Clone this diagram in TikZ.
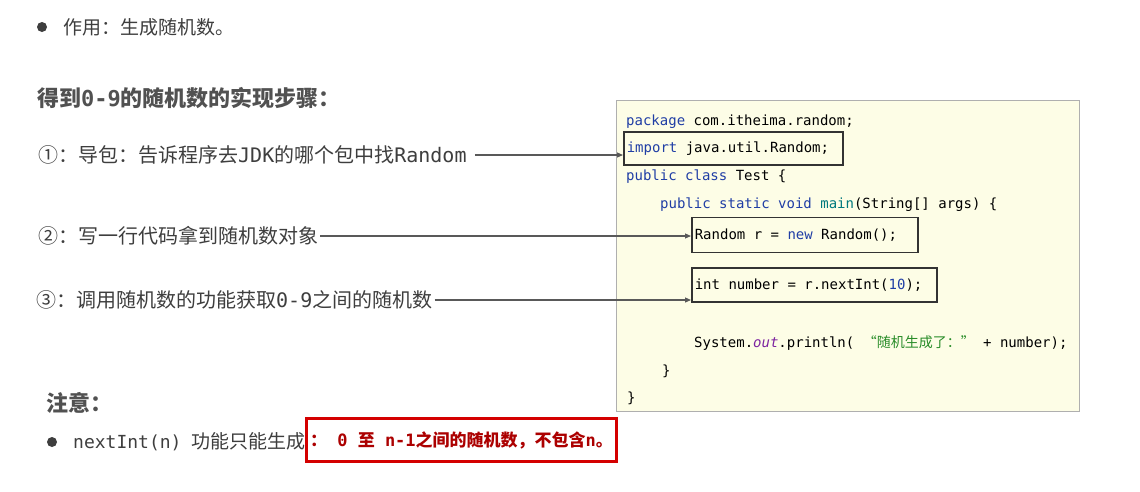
\documentclass[tikz,border=0pt]{standalone}
\usepackage{fontspec}
\usepackage{tikz}
\usetikzlibrary{arrows.meta}
\setmainfont{DejaVu Sans}
\setmonofont{DejaVu Sans Mono}
\newfontfamily\cjk{Noto Sans CJK SC}
\definecolor{kw blue}{RGB}{32,62,165}
\definecolor{fn teal}{RGB}{0,120,125}
\definecolor{field purple}{RGB}{125,35,160}
\definecolor{str green}{RGB}{40,140,40}
\definecolor{code bg}{RGB}{253,253,230}
\definecolor{code frame}{RGB}{175,175,175}
\definecolor{warn red}{RGB}{212,0,0}
\definecolor{warn text}{RGB}{172,0,0}
\definecolor{text gray}{RGB}{62,62,62}
\newcommand{\kw}[1]{\textcolor{kw blue}{#1}}
\newcommand{\codefont}{\ttfamily\fontsize{14}{17}\selectfont}

\begin{document}
\begin{tikzpicture}[x=1pt, y=-1pt,
    codeline/.style={anchor=base west, inner sep=0pt, font=\codefont},
    markbox/.style={draw=black!80, line width=1.6pt, anchor=west, inner xsep=3pt, inner ysep=0pt, font=\codefont},
    steplabel/.style={anchor=west, inner xsep=2pt, text=text gray, font=\cjk\fontsize{20}{24}\selectfont},
    headtext/.style={anchor=west, inner sep=1pt, text=text gray!90, font=\cjk\bfseries\fontsize{22}{26}\selectfont},
    bodytext/.style={anchor=west, inner sep=1pt, text=text gray, font=\cjk\fontsize{19}{23}\selectfont},
    dot/.style={circle, fill=text gray, inner sep=0pt, minimum size=10pt},
    pointer/.style={draw=black!65, line width=1.1pt, -{Triangle[length=6pt,width=5pt]}}]
  \fill[white] (0,0) rectangle (1140,491);
  \useasboundingbox (0,0) rectangle (1140,491);
  \node[dot] (b1) at (42,27) {};
  \node[bodytext] (use) at (62,27) {作用：生成随机数。};
  \node[headtext] (steps) at (36,98) {得到\texttt{0-9}的随机数的实现步骤：};
  \node[draw=code frame, line width=1pt, fill=code bg, anchor=north west, minimum width=463pt, minimum height=311pt] (code) at (616,100) {};
  \node[codeline] (pkg) at (626,125) {\kw{package} com.itheima.random;};
  \node[markbox, minimum height=33pt] (imp) at (623,148.5) {\makebox[213pt][l]{\kw{import} java.util.Random;}};
  \node[codeline] (cls) at (626,180) {\kw{public class} Test \{};
  \node[codeline] (mainline) at (660,208) {\kw{public static void} \textcolor{fn teal}{main}(String[] args) \{};
  \node[markbox, minimum height=35pt] (newr) at (691,235) {\makebox[220pt][l]{Random r = \kw{new} Random();}};
  \node[markbox, minimum height=34pt] (pick) at (691,285) {\makebox[239pt][l]{int number = r.nextInt(\kw{10});}};
  \node[codeline] (prn) at (694,347) {System.\textcolor{field purple}{\textit{out}}.println( \textcolor{str green}{\cjk “随机生成了：”} + number);};
  \node[codeline] (close1) at (662,375) {\}};
  \node[codeline] (close2) at (627,402) {\}};
  \node[steplabel] (s1) at (36,155) {①：导包：告诉程序去\texttt{JDK}的哪个包中找\texttt{Random}\kern6pt};
  \node[steplabel] (s2) at (36,236) {②：写一行代码拿到随机数对象};
  \node[steplabel] (s3) at (34,300) {③：调用随机数的功能获取\texttt{0-9}之间的随机数};
  \draw[pointer] (s1.east) -- (s1.east -| imp.west);
  \draw[pointer] (s2.east) -- (s2.east -| newr.west);
  \draw[pointer] (s3.east) -- (s3.east -| pick.west);
  \node[headtext] (note) at (45,403) {注意：};
  \node[dot] (b2) at (52,442) {};
  \node[bodytext] (tip) at (72,442) {{\ttfamily\fontsize{18}{22}\selectfont nextInt(n)}\hspace{10pt}功能只能生成};
  \node[draw=warn red, line width=3pt, minimum width=306pt, minimum height=43pt, text=warn text, font=\cjk\bfseries\fontsize{17}{20}\selectfont] (warn) at (461.5,440) {：\texttt{ 0 }至\texttt{ n-1}之间的随机数，不包含\texttt{n}。};
\end{tikzpicture}
\end{document}
